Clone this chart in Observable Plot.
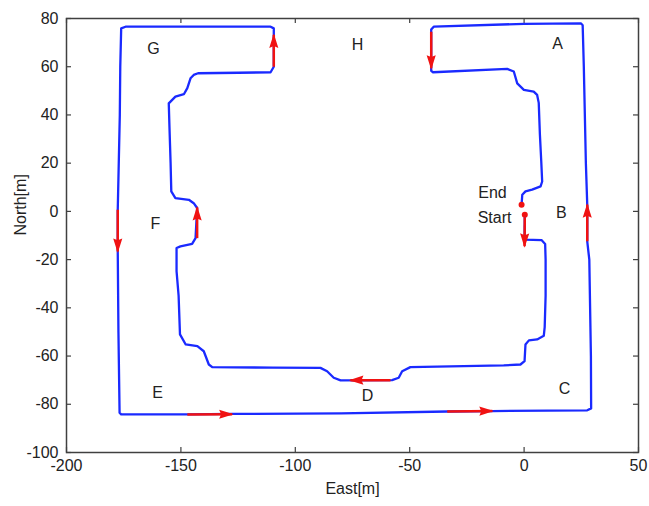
<!DOCTYPE html>
<html><head><meta charset="utf-8">
<script src="https://cdn.jsdelivr.net/npm/d3@7"></script>
<script src="https://cdn.jsdelivr.net/npm/@observablehq/plot@0.6"></script>
<style>body{margin:0;background:#fff}</style>
</head><body><div id="chart"></div>
<script>
// Trajectory (East, North) in metres, in order of travel
const pathEast = [0.3,0.2,7.6,9.2,9.4,9.4,9.0,8.6,5.7,2.1,0.6,0.2,-1.6,-8.9,-26.4,-49.7,-53.3,-54.8,-57.7,-80.2,-83.2,-86.1,-89.0,-110,-136.3,-137.8,-140.0,-142.8,-147.9,-150.4,-151.0,-151.9,-151.9,-150.2,-145.1,-143.6,-142.9,-144.4,-146.5,-152.4,-154.2,-154.5,-155.0,-155.3,-152.4,-148.7,-147.2,-145.8,-144.4,-142.5,-125,-110.8,-109.4,-109.4,-109.4,-110.8,-140,-174.2,-176.1,-176.5,-176.7,-177.6,-177.6,-177.3,-176.8,-176.1,-147.2,-127.6,-80,-33.6,-13.9,27.6,29.3,29.2,28.5,27.6,27.6,27.0,26.1,25.6,24.8,0,-39.5,-40.6,-40.6,-40.6,-39.8,-7.4,-4.5,-3.0,-0.1,4.2,5.7,6.4,6.9,7.5,7.9,7.2,3.5,0.6,-0.8,-1.1];
const pathNorth = [-1.4,-11.7,-11.9,-13.5,-20,-35,-48,-51.6,-53.1,-53.5,-55.2,-62.1,-63.5,-63.9,-64.2,-64.6,-66.3,-69.0,-70.0,-70.1,-69.0,-66.3,-64.9,-64.8,-64.6,-63.5,-58,-55.9,-55.2,-51,-35,-24.8,-15.2,-14.5,-13.5,-11.1,1.4,3.4,4.8,5.5,8.3,20,35,44.8,47.6,48.6,51.1,55.2,56.6,57.3,57.5,57.7,60.0,72.5,75.9,76.6,76.6,76.6,75.9,60,40,0.7,-16.6,-50,-83.5,-84.2,-84.2,-84.0,-83.8,-83.0,-82.8,-82.5,-81.7,-60,-20,-12.4,2.8,20,60,77.2,78.0,77.8,76.6,75.4,60.0,58.3,57.7,59.1,58.0,53.1,50.4,49.7,48.3,45,32,20.7,12.4,10.4,9.0,8.3,6.9,2.8];

// Direction arrows: from (x1,y1) to tip (x2,y2)
const arrowX1 = [0.3, -58.4, -142.9, -109.4, -177.6, -147.2, -33.6, 27.6, -40.6];
const arrowY1 = [-2.5, -70.0, -11.1, 60.0, 0.7, -84.2, -83.0, -12.4, 74.5];
const arrowX2 = [0.2, -75.9, -142.9, -109.4, -177.6, -127.6, -13.9, 27.6, -40.6];
const arrowY2 = [-14.5, -70.0, 1.6, 73.2, -16.6, -84.1, -82.8, 2.8, 59.4];

// Region labels
const labelText = ["A","B","C","D","E","F","G","H","End","Start"];
const labelEast = [14.6, 16.3, 17.7, -68.4, -160.2, -161.1, -162.0, -72.8, -13.8, -12.9];
const labelNorth = [69.6, -0.8, -73.7, -76.6, -75.4, -5.0, 67.5, 69.2, 7.5, -2.5];

// Axis ticks
const xTicks = [-200, -150, -100, -50, 0, 50];
const yTicks = [-100, -80, -60, -40, -20, 0, 20, 40, 60, 80];

const W = 649, H = 506, mL = 66, mR = 11, mT = 18, mB = 54;
const innerW = W - mL - mR, innerH = H - mT - mB;
const blue = "#1a2aff", red = "#f01212", axisColor = "#404040";

const points = pathEast.map((e, i) => ({east: e, north: pathNorth[i]}));
const arrows = arrowX1.map((x1, i) => ({
  x1, y1: arrowY1[i], x2: arrowX2[i], y2: arrowY2[i],
  rot: Math.atan2(arrowX2[i] - x1, arrowY2[i] - arrowY1[i]) * 180 / Math.PI
}));
const ends = [points[0], points[points.length - 1]];

const head = {
  draw(ctx, size) {
    const r = Math.sqrt(size / Math.PI);
    ctx.moveTo(0, -1.5);
    ctx.lineTo(0.7 * r, 2 * r);
    ctx.lineTo(0, 1.7 * r);
    ctx.lineTo(-0.7 * r, 2 * r);
    ctx.closePath();
  }
};

const chart = Plot.plot({
  width: W, height: H,
  marginLeft: mL, marginRight: mR, marginTop: mT, marginBottom: mB,
  x: {domain: [-200, 50]},
  y: {domain: [-100, 80]},
  style: {fontFamily: "'Liberation Sans', Arial, Helvetica, sans-serif", fontSize: "16px", color: "#222", background: "#fff"},
  marks: [
    Plot.frame({stroke: axisColor, strokeWidth: 1.5}),
    Plot.tickX(xTicks, {x: d => d, insetTop: innerH - 5, stroke: axisColor, strokeWidth: 1.2}),
    Plot.tickX(xTicks, {x: d => d, insetBottom: innerH - 5, stroke: axisColor, strokeWidth: 1.2}),
    Plot.tickY(yTicks, {y: d => d, insetRight: innerW - 5, stroke: axisColor, strokeWidth: 1.2}),
    Plot.tickY(yTicks, {y: d => d, insetLeft: innerW - 5, stroke: axisColor, strokeWidth: 1.2}),
    Plot.axisX(xTicks, {anchor: "bottom", tickSize: 0, tickPadding: 7, tickFormat: d => String(d), label: null, fontSize: 16}),
    Plot.axisY(yTicks, {anchor: "left", tickSize: 0, tickPadding: 8, tickFormat: d => String(d), label: null, fontSize: 16}),
    Plot.text(["East[m]"], {frameAnchor: "bottom", dy: 41, fontSize: 16, fill: "#222"}),
    Plot.text(["North[m]"], {frameAnchor: "left", dx: -46, rotate: -90, fontSize: 16, fill: "#222"}),
    Plot.line(points, {x: "east", y: "north", stroke: blue, strokeWidth: 2.3, strokeLinejoin: "round"}),
    Plot.link(arrows, {x1: "x1", y1: "y1", x2: "x2", y2: "y2", stroke: red, strokeWidth: 2.5}),
    Plot.dot(arrows, {x: "x2", y: "y2", rotate: "rot", symbol: head, r: 6.5, fill: red, stroke: "none"}),
    Plot.dot(ends, {x: "east", y: "north", r: 3, fill: red}),
    Plot.text(labelText, {x: labelEast, y: labelNorth, text: labelText, fontSize: 16, fill: "#222"})
  ]
});
document.getElementById("chart").appendChild(chart);
</script>
</body></html>
